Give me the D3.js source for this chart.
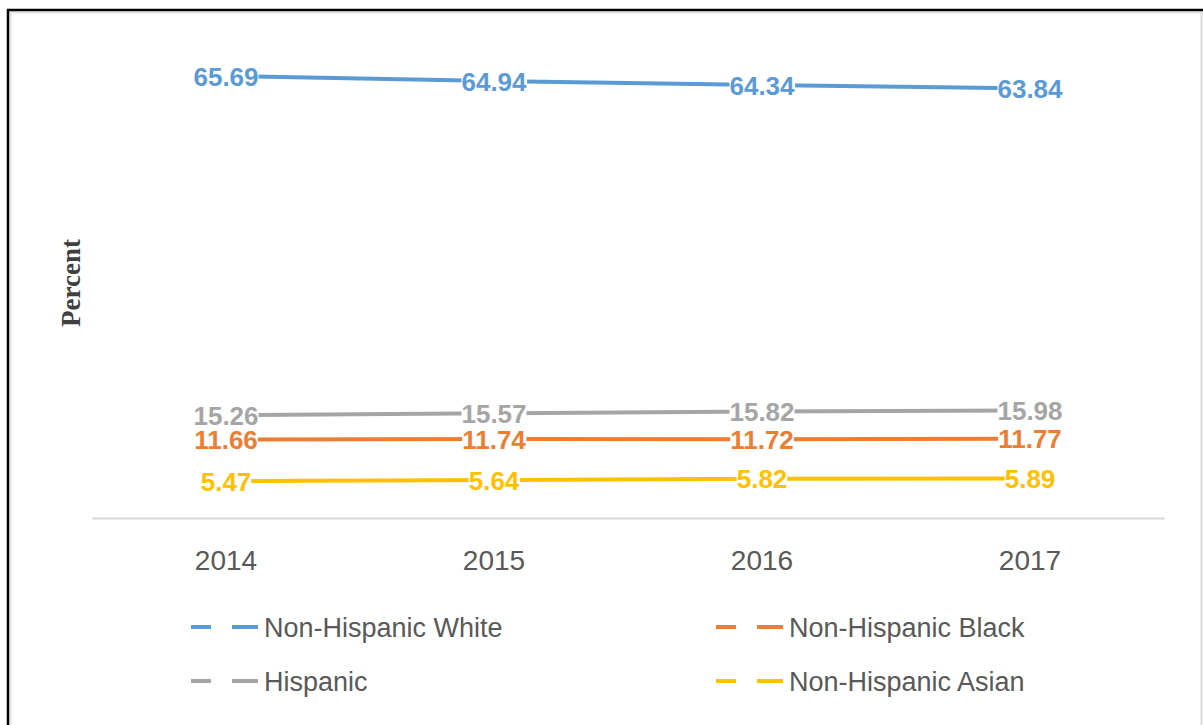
<!DOCTYPE html>
<html>
<head>
<meta charset="utf-8">
<script src="https://cdn.jsdelivr.net/npm/d3@7"></script>
<style>
  body { margin: 0; background: #fff; }
  svg { display: block; }
</style>
</head>
<body>
<div id="chart"></div>
<script>
// chart data
var years = ["2014", "2015", "2016", "2017"];
var seriesNames = ["Non-Hispanic White", "Non-Hispanic Black", "Hispanic", "Non-Hispanic Asian"];
var seriesColors = ["#5b9bd5", "#ed7d31", "#a5a5a5", "#ffc000"];
var white = [65.69, 64.94, 64.34, 63.84];
var black = [11.66, 11.74, 11.72, 11.77];
var hispanic = [15.26, 15.57, 15.82, 15.98];
var asian = [5.47, 5.64, 5.82, 5.89];

var seriesValues = [white, black, hispanic, asian];

var W = 1203, H = 725;
var svg = d3.select("#chart").append("svg")
    .attr("width", W)
    .attr("height", H);

// frame around the picture
svg.append("line").attr("x1", 10).attr("y1", 12.5).attr("x2", W).attr("y2", 12.5)
  .attr("stroke", "#e4e4e4").attr("stroke-width", 2);
svg.append("line").attr("x1", 10.5).attr("y1", 11).attr("x2", 10.5).attr("y2", H)
  .attr("stroke", "#e4e4e4").attr("stroke-width", 2);
svg.append("line").attr("x1", 1201.5).attr("y1", 11).attr("x2", 1201.5).attr("y2", H)
  .attr("stroke", "#dcdcdc").attr("stroke-width", 2);
svg.append("line").attr("x1", 7).attr("y1", 10).attr("x2", W).attr("y2", 10)
  .attr("stroke", "#000").attr("stroke-width", 2.5);
svg.append("line").attr("x1", 8).attr("y1", 9).attr("x2", 8).attr("y2", H)
  .attr("stroke", "#000").attr("stroke-width", 2.5);

var x = d3.scaleBand().domain(years).range([92, 1164]);
var y = d3.scaleLinear().domain([0, 70]).range([518, 47]);

// category axis
var xAxis = svg.append("g")
  .attr("transform", "translate(0,518)")
  .call(d3.axisBottom(x).tickSize(0).tickPadding(32));
xAxis.select(".domain").attr("stroke", "#d9d9d9").attr("stroke-width", 2);
xAxis.selectAll("text")
  .attr("fill", "#595959")
  .style("font-family", "'Liberation Sans', Arial, sans-serif")
  .style("font-size", "28px");

// axis title
svg.append("text")
  .attr("transform", "translate(80,283) rotate(-90)")
  .attr("text-anchor", "middle")
  .style("font-family", "'Liberation Serif', 'Times New Roman', serif")
  .style("font-weight", "bold")
  .style("font-size", "27px")
  .attr("fill", "#404040")
  .text("Percent");

var line = d3.line()
  .x(function(d, i) { return x(years[i]) + x.bandwidth() / 2; })
  .y(function(d) { return y(d); });

// series lines
svg.selectAll(".series")
  .data(seriesValues)
  .enter().append("path")
  .attr("class", "series")
  .attr("fill", "none")
  .attr("stroke", function(d, i) { return seriesColors[i]; })
  .attr("stroke-width", 4)
  .attr("stroke-linecap", "round")
  .attr("d", line);

// data labels with white fill, drawn over all lines
seriesValues.forEach(function(vals, s) {
  vals.forEach(function(v, i) {
    var g = svg.append("g")
      .attr("transform", "translate(" + (x(years[i]) + x.bandwidth() / 2) + "," + y(v) + ")");
    var bg = g.append("rect").attr("fill", "#fff");
    var t = g.append("text")
      .attr("text-anchor", "middle")
      .attr("dy", "0.37em")
      .style("font-family", "'Liberation Sans', Arial, sans-serif")
      .style("font-weight", "bold")
      .style("font-size", "26px")
      .attr("fill", seriesColors[s])
      .text(v.toFixed(2));
    var b = t.node().getBBox();
    bg.attr("x", b.x).attr("y", -10).attr("width", b.width).attr("height", 20);
  });
});

// legend, two columns
var legend = svg.selectAll(".legend")
  .data(seriesNames)
  .enter().append("g")
  .attr("class", "legend")
  .attr("transform", function(d, i) {
    return "translate(" + (i % 2 === 0 ? 191 : 716) + "," + (627 + Math.floor(i / 2) * 54) + ")";
  });
legend.append("line")
  .attr("x1", 0).attr("x2", 20).attr("y1", 0).attr("y2", 0)
  .attr("stroke", function(d, i) { return seriesColors[i]; })
  .attr("stroke-width", 4);
legend.append("line")
  .attr("x1", 41).attr("x2", 67).attr("y1", 0).attr("y2", 0)
  .attr("stroke", function(d, i) { return seriesColors[i]; })
  .attr("stroke-width", 4);
legend.append("text")
  .attr("x", 73)
  .attr("y", 10)
  .attr("fill", "#595959")
  .style("font-family", "'Liberation Sans', Arial, sans-serif")
  .style("font-size", "27px")
  .text(function(d) { return d; });
</script>
</body>
</html>
